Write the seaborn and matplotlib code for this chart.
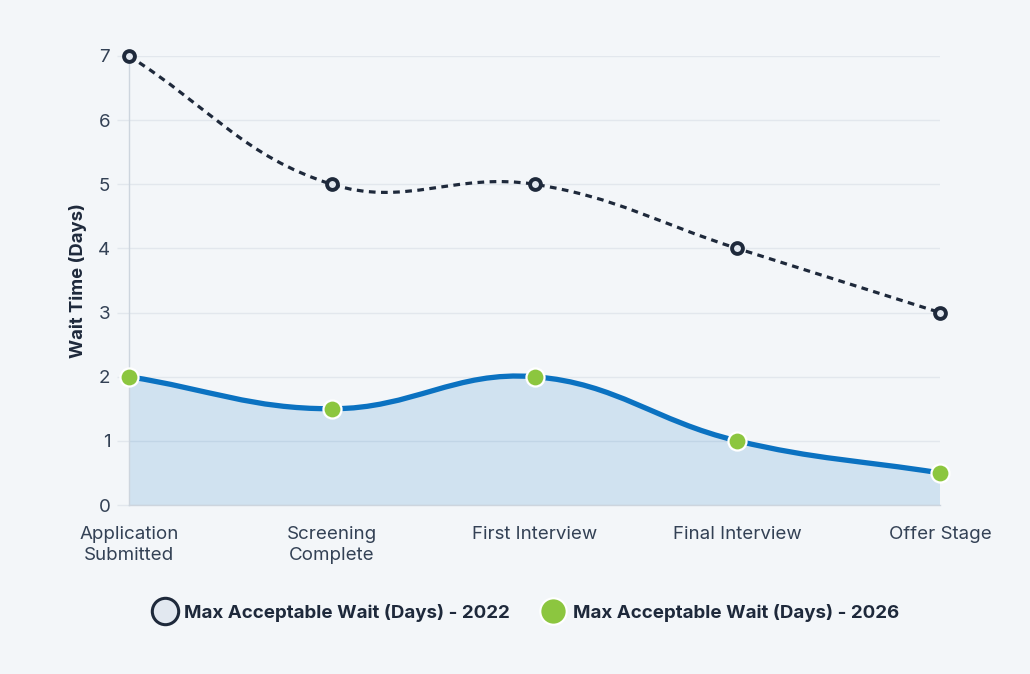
import numpy as np
import pandas as pd
import matplotlib
matplotlib.use("Agg")
import matplotlib.pyplot as plt
import seaborn as sns
from matplotlib.path import Path
from matplotlib.patches import PathPatch
from matplotlib.lines import Line2D

# ---------------- data ----------------
stages = ["Application\nSubmitted", "Screening\nComplete", "First Interview",
          "Final Interview", "Offer Stage"]
wait_2022 = [7, 5, 5, 4, 3]
wait_2026 = [2, 1.5, 2, 1, 0.5]
y_ticks = [0, 1, 2, 3, 4, 5, 6, 7]
label_2022 = "Max Acceptable Wait (Days) - 2022"
label_2026 = "Max Acceptable Wait (Days) - 2026"
y_title = "Wait Time (Days)"

# ---------------- style ----------------
BG = "#f3f6f9"
DARK = "#1e293b"
BLUE = "#0b72c1"
GREEN = "#8cc63f"
GRID = "#e2e7ed"
SPINE = "#cdd5de"
TICKC = "#334155"

sns.set_theme(style="white")
plt.rcParams['font.family'] = ['Inter', 'DejaVu Sans']

W, H = 1030, 674
fig = plt.figure(figsize=(W / 100, H / 100), dpi=100, facecolor=BG)
ax = fig.add_axes([129 / W, 1 - 505 / H, (940 - 129) / W, (505 - 56) / H])
ax.set_facecolor(BG)

pos = np.arange(len(stages))
ax.set_xlim(0, len(stages) - 1)
ax.set_ylim(0, 7)


def spline_codes(ax, xs, ys, tension=0.4):
    pts = ax.transData.transform(np.column_stack([xs, ys]).astype(float))
    n = len(pts)
    bb = ax.bbox
    prev_cp, next_cp = [], []
    for i in range(n):
        cur = pts[i]
        prv = pts[i - 1] if i > 0 else cur
        nxt = pts[i + 1] if i < n - 1 else cur
        d01 = np.hypot(*(cur - prv))
        d12 = np.hypot(*(nxt - cur))
        tot = d01 + d12
        s01 = d01 / tot if tot else 0
        s12 = d12 / tot if tot else 0
        pc = cur - tension * s01 * (nxt - prv)
        nc = cur + tension * s12 * (nxt - prv)
        for c in (pc, nc):
            c[0] = min(max(c[0], bb.x0), bb.x1)
            c[1] = min(max(c[1], bb.y0), bb.y1)
        prev_cp.append(pc)
        next_cp.append(nc)
    verts = [pts[0]]
    codes = [Path.MOVETO]
    for i in range(n - 1):
        verts += [next_cp[i], prev_cp[i + 1], pts[i + 1]]
        codes += [Path.CURVE4] * 3
    verts = ax.transData.inverted().transform(np.array(verts))
    return verts, codes


# 2026 area + line
v26, c26 = spline_codes(ax, pos, wait_2026)
fill_verts = np.vstack([v26, [[pos[-1], 0], [pos[0], 0], [pos[0], 0]]])
fill_codes = c26 + [Path.LINETO, Path.LINETO, Path.CLOSEPOLY]
ax.add_patch(PathPatch(Path(fill_verts, fill_codes), facecolor=BLUE, alpha=0.15,
                       edgecolor="none", zorder=1))
ax.add_patch(PathPatch(Path(v26, c26), fill=False, edgecolor=BLUE, lw=3.8,
                       zorder=3, clip_on=False, capstyle="round", joinstyle="round"))

# 2022 dashed line
v22, c22 = spline_codes(ax, pos, wait_2022)
ax.add_patch(PathPatch(Path(v22, c22), fill=False, edgecolor=DARK, lw=2.3,
                       linestyle=(0, (2.1, 1.7)), zorder=3, clip_on=False))

df = pd.DataFrame({"pos": pos, "w22": wait_2022, "w26": wait_2026})
sns.scatterplot(data=df, x="pos", y="w22", ax=ax, s=7.8 ** 2, color="#e2e8f0",
                edgecolor=DARK, linewidth=2.8, zorder=5, clip_on=False, legend=False)
sns.scatterplot(data=df, x="pos", y="w26", ax=ax, s=13 ** 2, color=GREEN,
                edgecolor="white", linewidth=1.6, zorder=5, clip_on=False, legend=False)

# axes styling
ax.set_yticks(y_ticks)
ax.set_xticks(pos)
ax.set_xticklabels(stages, linespacing=1.3)
ax.grid(axis="y", color=GRID, lw=1.0)
ax.grid(axis="x", visible=False)
ax.set_axisbelow(True)
for s in ["top", "right"]:
    ax.spines[s].set_visible(False)
for s in ["left", "bottom"]:
    ax.spines[s].set_color(SPINE)
    ax.spines[s].set_linewidth(1.0)
ax.tick_params(axis="y", length=8.5, width=1.0, color=GRID, pad=5,
               labelsize=13.5, labelcolor=TICKC, left=True)
ax.tick_params(axis="x", length=0, pad=15, labelsize=13.5, labelcolor=TICKC)
ax.set_xlabel("")
ax.set_ylabel(y_title, fontsize=13.3, fontweight="bold", color=DARK)
ax.yaxis.set_label_coords(-0.052, 0.5)

handles = [
    Line2D([], [], marker="o", linestyle="none", markersize=19,
           markerfacecolor="#e2e8f0", markeredgecolor=DARK, markeredgewidth=2.2),
    Line2D([], [], marker="o", linestyle="none", markersize=19,
           markerfacecolor=GREEN, markeredgecolor="white", markeredgewidth=1.5),
]
fig.legend(handles, [label_2022, label_2026], loc="center",
           bbox_to_anchor=(525 / W, 1 - 613 / H), ncol=2, frameon=False,
           handlelength=1.5, handletextpad=0.3, columnspacing=1.55,
           prop={"family": ["Inter", "DejaVu Sans"], "weight": "bold", "size": 13.5},
           labelcolor=DARK)

fig.savefig("out.png", dpi=100, facecolor=BG)
